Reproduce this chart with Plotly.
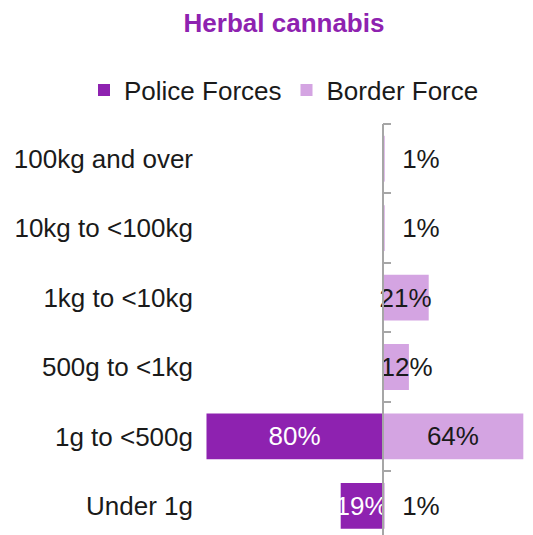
import plotly.graph_objects as go

# data (% of seizures per force)
categories = ["100kg and over", "10kg to <100kg", "1kg to <10kg",
              "500g to <1kg", "1g to <500g", "Under 1g"]
police = [0, 0, 0, 0, 80, 19]
border = [1, 1, 21, 12, 64, 1]

PURPLE = '#8e22b0'
LILAC = '#d4a4e2'
GREY = '#a6a6a6'
FONT = 'Arial, Liberation Sans, sans-serif'

# the page body has an 8px margin, so the figure is drawn 8px smaller
W, H = 525, 527
plot_left = 192            # px where the bar area starts
plot_top = 116
x_min, x_max = -82.95, 68.4

NB = "\u00a0"


def border_label(v):
    # narrow bars: nudge the label right like the original chart
    if v < 5:
        return NB * 2 + f"{v}%"
    if v < 15:
        return NB * 3 + f"{v}%"
    return f"{v}%"


police_text = [f"{v}%" if v else "" for v in police]
border_text = [border_label(v) for v in border]
border_pos = ['outside' if v < 5 else 'inside' for v in border]

fig = go.Figure()

fig.add_trace(go.Bar(
    y=categories,
    x=[-v for v in police],
    orientation='h',
    name='Police Forces',
    marker=dict(color=PURPLE, line=dict(width=0)),
    text=police_text,
    textposition='inside',
    insidetextanchor='middle',
    constraintext='none',
    textangle=0,
    textfont=dict(color='white', size=26, family=FONT),
    hoverinfo='skip',
))

fig.add_trace(go.Bar(
    y=categories,
    x=border,
    orientation='h',
    name='Border Force',
    yaxis='y2',
    marker=dict(color=LILAC, line=dict(width=0)),
    text=border_text,
    textposition=border_pos,
    insidetextanchor='middle',
    constraintext='none',
    textangle=0,
    cliponaxis=False,
    textfont=dict(color='#1a1a1a', size=26, family=FONT),
    hoverinfo='skip',
))

y_range = [5.42, -0.5]
dom_left = plot_left / W
axis_pos = dom_left + (1 - dom_left) * (-x_min / (x_max - x_min))

fig.update_layout(
    width=W,
    height=H,
    margin=dict(l=0, r=0, t=plot_top, b=0, autoexpand=False),
    plot_bgcolor='white',
    paper_bgcolor='white',
    font=dict(family=FONT, size=26, color='#1a1a1a'),
    barmode='relative',
    bargap=0.34,
    title=dict(
        text='Herbal cannabis',
        x=276 / W, xref='container', xanchor='center',
        y=1 - 15 / H, yref='container', yanchor='middle',
        font=dict(size=26, color=PURPLE, family=FONT, weight='bold'),
    ),
    legend=dict(
        orientation='h',
        x=276 / W, xanchor='center',
        y=1 - 82 / H, yref='container', yanchor='middle',
        font=dict(size=26, color='#1a1a1a'),
        itemwidth=30,
        bgcolor='rgba(0,0,0,0)',
    ),
    xaxis=dict(
        domain=[dom_left, 1],
        range=[x_min, x_max],
        showgrid=False,
        zeroline=False,
        showticklabels=False,
        ticks='',
        fixedrange=True,
    ),
    yaxis=dict(
        categoryorder='array',
        categoryarray=categories,
        range=y_range,
        showgrid=False,
        zeroline=False,
        ticks='',
        ticklabelstandoff=6,
        tickfont=dict(size=26, color='#1a1a1a'),
        fixedrange=True,
    ),
    yaxis2=dict(
        overlaying='y',
        anchor='free',
        position=axis_pos,
        side='right',
        categoryorder='array',
        categoryarray=categories,
        range=y_range,
        showline=True,
        linecolor=GREY,
        linewidth=1.5,
        ticks='outside',
        tickson='boundaries',
        ticklen=8,
        tickcolor=GREY,
        tickwidth=1.5,
        showticklabels=False,
        showgrid=False,
        zeroline=False,
        fixedrange=True,
    ),
)

fig.write_html("out.html")
